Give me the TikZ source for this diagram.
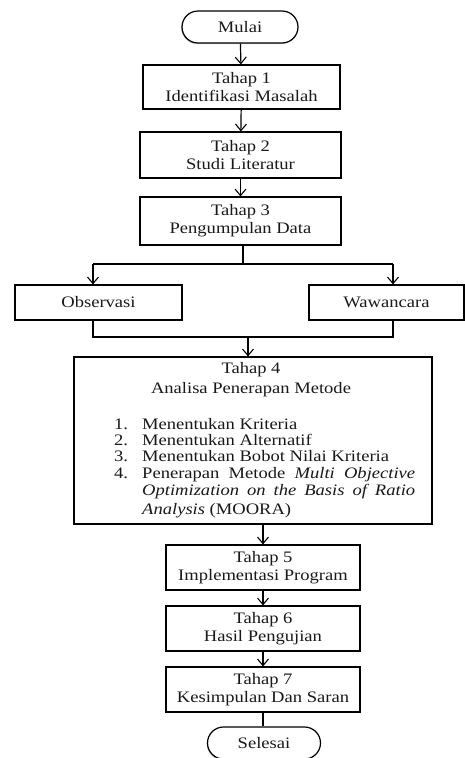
\documentclass[tikz,border=0pt]{standalone}
\usepackage{fontspec}
\setmainfont{Liberation Serif}[FakeStretch=1.16]
\usetikzlibrary{arrows.meta,shapes.misc,shadows}
\begin{document}
\begin{tikzpicture}[x=1pt,y=-1pt,
  txt/.style={inner sep=0pt, font=\fontsize{16}{18}\selectfont, text=black!90},
  box/.style={draw=black, line width=1.2pt, fill=white, align=center, inner sep=2pt,
    font=\fontsize{16}{18}\selectfont, text=black!90,
    drop shadow={shadow xshift=-0.8pt, shadow yshift=-1.2pt, opacity=0.2, fill=black}},
  term/.style={box, rounded rectangle},
  arr/.style={line width=1.2pt, -{Straight Barb[length=6.5pt,width=11pt,line width=1.1pt]}},
  ln/.style={line width=1.2pt}]
\fill[white] (0,0) rectangle (465,758);
\useasboundingbox (0,0) rectangle (465,758);

\node[term, minimum width=120pt, minimum height=32pt] (mulai) at (240,27) {Mulai};
\node[box, minimum width=197pt, minimum height=44pt] (t1) at (241.5,87) {Tahap 1\\Identifikasi Masalah};
\node[box, minimum width=201pt, minimum height=46pt] (t2) at (240.5,155) {Tahap 2\\Studi Literatur};
\node[box, minimum width=201pt, minimum height=48pt] (t3) at (240.5,221) {Tahap 3\\Pengumpulan Data};
\node[box, minimum width=167pt, minimum height=35pt] (obs) at (98.5,302.5) {Observasi};
\node[box, minimum width=155pt, minimum height=35pt] (waw) at (386.5,302.5) {Wawancara};
\node[box, minimum width=358pt, minimum height=167pt] (t4) at (253,440.5) {};

\node[txt, align=center, font=\fontsize{16}{20}\selectfont] (t4h) at (251,380) {Tahap 4\\Analisa Penerapan Metode};
\node[txt, anchor=base west] (n1) at (114,429) {1.};
\node[txt, anchor=base west] (i1) at (142,429) {Menentukan Kriteria};
\node[txt, anchor=base west] (n2) at (114,445) {2.};
\node[txt, anchor=base west] (i2) at (142,445) {Menentukan Alternatif};
\node[txt, anchor=base west] (n3) at (114,461) {3.};
\node[txt, anchor=base west] (i3) at (142,461) {Menentukan Bobot Nilai Kriteria};
\node[txt, anchor=base west] (n4) at (114,478) {4.};
\node[txt, anchor=base west] (i4a) at (142,478) {\makebox[273pt][s]{Penerapan Metode \textit{Multi Objective}}};
\node[txt, anchor=base west] (i4b) at (142,495) {\makebox[273pt][s]{\textit{Optimization on the Basis of Ratio}}};
\node[txt, anchor=base west] (i4c) at (142,514) {\textit{Analysis} (MOORA)};

\node[box, minimum width=194pt, minimum height=45pt] (t5) at (263,567.5) {Tahap 5\\Implementasi Program};
\node[box, minimum width=194pt, minimum height=45pt] (t6) at (263,628.5) {Tahap 6\\Hasil Pengujian};
\node[box, minimum width=194pt, minimum height=45pt] (t7) at (263,689.5) {Tahap 7\\Kesimpulan Dan Saran};
\node[term, minimum width=117pt, minimum height=32pt] (selesai) at (264,743) {Selesai};

\draw[arr] (mulai) -- (t1);
\draw[arr] (t1) -- (t2);
\draw[arr] (t2) -- (t3);

\coordinate (bc) at (243,264);
\coordinate (bl) at (93,264);
\coordinate (br) at (393,264);
\draw[ln] (t3.south -| bc) -- (bc);
\draw[ln] (bl) -- (br);
\draw[arr] (bl) -- (bl |- obs.north);
\draw[arr] (br) -- (br |- waw.north);

\coordinate (ml) at (93,337);
\coordinate (mr) at (393,337);
\coordinate (mc) at (248,337);
\draw[ln] (ml |- obs.south) -- (ml) -- (mr) -- (mr |- waw.south);
\draw[arr] (mc) -- (mc |- t4.north);

\draw[arr] (t5.north |- t4.south) -- (t5.north);
\draw[arr] (t5) -- (t6);
\draw[arr] (t6) -- (t7);
\draw[ln] (t7.south) -- (t7.south |- selesai.north);
\end{tikzpicture}
\end{document}
